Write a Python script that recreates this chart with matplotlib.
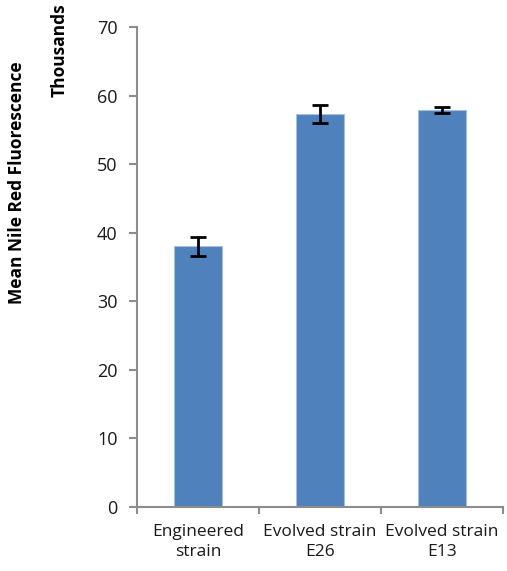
import matplotlib
matplotlib.use("Agg")
import matplotlib.pyplot as plt
from matplotlib.ticker import FixedLocator

categories = ["Engineered\nstrain", "Evolved strain\nE26", "Evolved strain\nE13"]
means = [38.0, 57.3, 57.9]
errors = [1.4, 1.35, 0.5]
yticks = [0, 10, 20, 30, 40, 50, 60, 70]

plt.rcParams["font.family"] = ["Open Sans", "DejaVu Sans"]

fig = plt.figure(figsize=(5.07, 5.71), dpi=100)
ax = fig.add_axes([137 / 507, 1 - 507 / 571, (503 - 137) / 507, (507 - 27) / 571])

x = list(range(len(categories)))
ax.bar(x, means, width=0.4, color="#4F81BD", edgecolor="#A7BFDE", linewidth=0.8, zorder=2)
ax.errorbar(x, means, yerr=errors, fmt="none", ecolor="black", elinewidth=2.0,
            capsize=6, capthick=2.0, zorder=3)

ax.set_xlim(-0.5, 2.5)
ax.set_ylim(0, 70)
ax.set_yticks(yticks)
ax.set_yticklabels([str(v) for v in yticks], fontsize=13, color="#1a1a1a")

ax.set_xticks(x)
ax.set_xticklabels(categories, fontsize=12.5, color="#1a1a1a", linespacing=1.35)
ax.tick_params(axis="x", which="major", length=0, pad=12)
ax.xaxis.set_minor_locator(FixedLocator([-0.5, 0.5, 1.5, 2.5]))
ax.tick_params(axis="x", which="minor", length=5, width=1.5, color="#8C8C8C", direction="out")
ax.tick_params(axis="y", which="major", length=6, width=1.5, color="#8C8C8C", direction="out", pad=8)

for side in ("top", "right"):
    ax.spines[side].set_visible(False)
for side in ("left", "bottom"):
    ax.spines[side].set_color("#8C8C8C")
    ax.spines[side].set_linewidth(1.5)

fig.text(17 / 507, 1 - 183 / 571, "Mean Nile Red Fluorescence", rotation=90,
         ha="center", va="center", fontsize=12.5, fontweight="bold")
fig.text(60 / 507, 1 - 50 / 571, "Thousands", rotation=90,
         ha="center", va="center", fontsize=12.5, fontweight="bold")

fig.savefig("out.png", dpi=100)
